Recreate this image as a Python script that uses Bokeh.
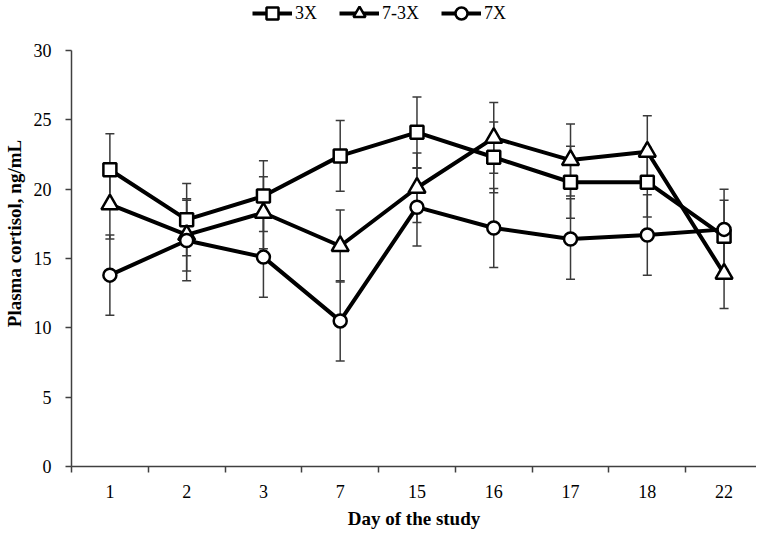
from bokeh.plotting import figure
from bokeh.models import (ColumnDataSource, FixedTicker, Legend, LegendItem, Range1d)
from bokeh.embed import file_html
from bokeh.resources import INLINE

days = ["1", "2", "3", "7", "15", "16", "17", "18", "22"]
mean_3x = [21.4, 17.8, 19.5, 22.4, 24.1, 22.3, 20.5, 20.5, 16.6]
se_3x = [2.6, 2.6, 2.55, 2.55, 2.55, 2.55, 2.6, 2.5, 2.6]
mean_73x = [18.9, 16.7, 18.3, 15.9, 20.1, 23.7, 22.1, 22.7, 13.9]
se_73x = [2.5, 2.6, 2.6, 2.6, 2.5, 2.55, 2.6, 2.6, 2.5]
mean_7x = [13.8, 16.3, 15.1, 10.5, 18.7, 17.2, 16.4, 16.7, 17.1]
se_7x = [2.9, 2.9, 2.9, 2.9, 2.8, 2.85, 2.9, 2.9, 2.9]
y_ticks = [0, 5, 10, 15, 20, 25, 30]
y_max = 30

FONT = "Liberation Serif"

xpos = list(range(1, len(days) + 1))
# frame spans 71..764 px; categories are 77.67 px apart as in the reference
x_end = 0.5 + (764 - 71) / 77.67
# frame is 466 px tall, the 0..30 axis takes the lower 416 px; room above for legend
y_end = y_max * 466 / 416

p = figure(width=756, height=531, output_backend="svg", toolbar_location=None,
           x_range=Range1d(0.5, x_end), y_range=Range1d(0, y_end),
           min_border_left=63, min_border_right=0, min_border_top=0, min_border_bottom=65)
p.outline_line_color = None
p.xgrid.visible = False
p.ygrid.visible = False

series = [
    ("3X", mean_3x, se_3x, "square", 13),
    ("7-3X", mean_73x, se_73x, "triangle", 17),
    ("7X", mean_7x, se_7x, "circle", 13),
]

sources = []
for name, m, se, marker, size in series:
    src = ColumnDataSource(dict(
        x=xpos, y=m,
        lo=[a - b for a, b in zip(m, se)],
        hi=[a + b for a, b in zip(m, se)],
    ))
    sources.append(src)
    p.segment(x0="x", y0="lo", x1="x", y1="hi", source=src, line_color="#3a3a3a", line_width=1.5)
    p.scatter(x="x", y="lo", source=src, marker="dash", size=9, line_color="#3a3a3a", line_width=1.5)
    p.scatter(x="x", y="hi", source=src, marker="dash", size=9, line_color="#3a3a3a", line_width=1.5)

items = []
for (name, m, se, marker, size), src in zip(series, sources):
    ln = p.line(x="x", y="y", source=src, line_color="black", line_width=4)
    sc = p.scatter(x="x", y="y", source=src, marker=marker, size=size,
                   fill_color="white", line_color="black", line_width=2.5)
    items.append(LegendItem(label=name, renderers=[ln, sc]))

legend = Legend(items=items, orientation="horizontal", location=(181, 438),
                border_line_color=None, background_fill_alpha=0,
                padding=0, margin=0, spacing=22, glyph_width=40, glyph_height=30,
                label_standoff=3, label_text_font=FONT, label_text_font_size="18px",
                label_text_color="black")
p.add_layout(legend, "center")

# x axis
p.xaxis.ticker = FixedTicker(ticks=xpos, minor_ticks=[x - 0.5 for x in xpos] + [len(days) + 0.5])
p.xaxis.major_label_overrides = {i: d for i, d in zip(xpos, days)}
p.xaxis.major_tick_line_color = None
p.xaxis.major_tick_out = 6
p.xaxis.major_tick_in = 0
p.xaxis.minor_tick_line_color = "#404040"
p.xaxis.minor_tick_line_width = 1.5
p.xaxis.minor_tick_out = 6
p.xaxis.minor_tick_in = 0
p.xaxis.axis_line_color = "#404040"
p.xaxis.axis_line_width = 1.5
p.xaxis.major_label_standoff = 12
p.xaxis.axis_label = "Day of the study"
p.xaxis.axis_label_standoff = 7

# y axis
p.yaxis.ticker = FixedTicker(ticks=y_ticks)
p.yaxis.bounds = (0, y_max)
p.yaxis.minor_tick_line_color = None
p.yaxis.major_tick_line_color = "#404040"
p.yaxis.major_tick_line_width = 1.5
p.yaxis.major_tick_out = 6
p.yaxis.major_tick_in = 0
p.yaxis.axis_line_color = "#404040"
p.yaxis.axis_line_width = 1.5
p.yaxis.major_label_standoff = 14
p.yaxis.axis_label = "Plasma cortisol, ng/mL"
p.yaxis.axis_label_standoff = 6

for ax in (p.xaxis, p.yaxis):
    ax.major_label_text_font = FONT
    ax.major_label_text_font_size = "18px"
    ax.major_label_text_color = "black"
    ax.axis_label_text_font = FONT
    ax.axis_label_text_font_size = "19px"
    ax.axis_label_text_font_style = "bold"
    ax.axis_label_text_color = "black"

open("out.html", "w").write(file_html(p, INLINE))
